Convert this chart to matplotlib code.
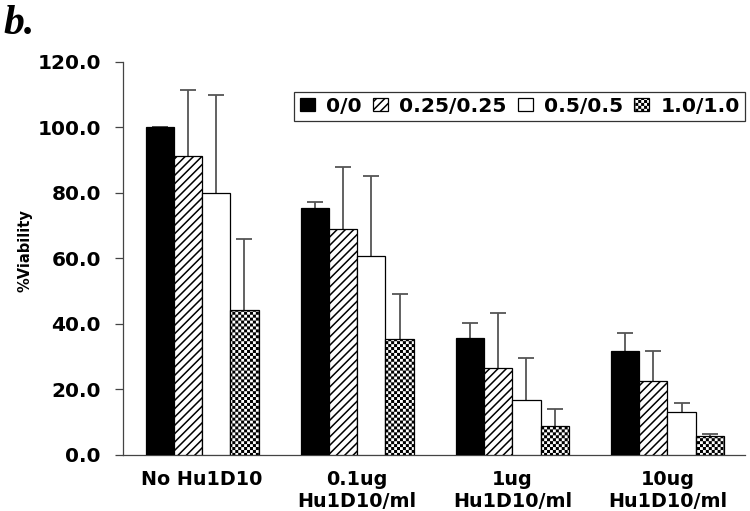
import warnings
import numpy as np
import matplotlib
matplotlib.use("Agg")
import matplotlib.pyplot as plt
from matplotlib import hatch as mhatch
from matplotlib.path import Path

warnings.filterwarnings("ignore")

# data (mean and SD, % viability)
groups = ["No Hu1D10", "0.1ug\nHu1D10/ml", "1ug\nHu1D10/ml", "10ug\nHu1D10/ml"]
series = ["0/0", "0.25/0.25", "0.5/0.5", "1.0/1.0"]
mean_00 = [100.0, 75.3, 35.6, 31.8]
sd_00 = [0.0, 1.9, 4.6, 5.4]
mean_25 = [91.3, 68.9, 26.6, 22.7]
sd_25 = [20.2, 18.9, 16.9, 9.2]
mean_50 = [80.1, 60.8, 16.8, 13.2]
sd_50 = [29.8, 24.4, 12.8, 2.8]
mean_10 = [44.3, 35.4, 8.9, 5.8]
sd_10 = [21.7, 13.7, 5.2, 0.6]
yticks = [0, 20, 40, 60, 80, 100, 120]


# checkerboard hatch ('c'), matplotlib has none built in
class CheckerHatch(mhatch.HatchPatternBase):
    def __init__(self, hatch, density):
        self.n = 34 if 'c' in hatch else 0
        self.num_vertices = (self.n * self.n // 2) * 5
        self.filled = True

    def set_vertices_and_codes(self, vertices, codes):
        s = 1.0 / self.n
        d = 0.0072  # shrink to make up for the stroke
        k = 0
        for i in range(self.n):
            for j in range(self.n):
                if (i + j) % 2:
                    continue
                x0, y0 = i * s + d, j * s + d
                x1, y1 = (i + 1) * s - d, (j + 1) * s - d
                vertices[k:k + 5] = [[x0, y0], [x1, y0], [x1, y1], [x0, y1], [x0, y0]]
                codes[k:k + 5] = [Path.MOVETO, Path.LINETO, Path.LINETO,
                                  Path.LINETO, Path.CLOSEPOLY]
                k += 5


mhatch._hatch_types.append(CheckerHatch)

plt.rcParams['hatch.linewidth'] = 1.1
plt.rcParams['hatch.color'] = 'black'
plt.rcParams['font.family'] = 'DejaVu Sans'

fig = plt.figure(figsize=(7.5, 5.11), dpi=100)
ax = fig.add_axes([0.164, 0.1096, 0.9933 - 0.164, 0.8787 - 0.1096])

x = np.arange(len(groups))
w = 0.182
means = [mean_00, mean_25, mean_50, mean_10]
sds = [sd_00, sd_25, sd_50, sd_10]
faces = ['black', 'white', 'white', 'white']
hatches = [None, '////', None, 'c']

for k in range(4):
    pos = x + (k - 1.5) * w
    ax.bar(pos, means[k], w, color=faces[k], edgecolor='black', linewidth=0.9,
           hatch=hatches[k], label=series[k], zorder=3)
    ax.errorbar(pos, means[k], yerr=sds[k], fmt='none', ecolor='#555555',
                elinewidth=1.3, capsize=5.5, capthick=1.3, zorder=2)

ax.set_xlim(-0.51, 3.5)
ax.set_ylim(0, 120)
ax.set_yticks(yticks)
ax.set_yticklabels(["%.1f" % v for v in yticks], fontsize=14.5, fontweight='bold')
ax.set_xticks(x)
ax.set_xticklabels(groups, fontsize=13.8, fontweight='bold')
ax.tick_params(axis='x', length=0, pad=11)
ax.tick_params(axis='y', length=6, width=0.9, color='#444444', pad=10)

for side in ['top', 'right']:
    ax.spines[side].set_visible(False)
for side in ['left', 'bottom']:
    ax.spines[side].set_color('#444444')
    ax.spines[side].set_linewidth(0.9)

ax.set_ylabel("%Viability", fontsize=10.5, fontweight='bold')
ax.yaxis.set_label_coords(-0.146, 0.519)

leg = ax.legend(loc='upper right', bbox_to_anchor=(1.0, 0.924), ncol=4,
                borderaxespad=0, prop={'weight': 'bold', 'size': 14.6},
                fancybox=False, framealpha=1, edgecolor='#333333',
                handlelength=0.75, handleheight=0.6, handletextpad=0.55,
                columnspacing=0.55, borderpad=0.25)
leg.get_frame().set_linewidth(0.9)

fig.text(0.004, 1 - 34 / 511, "b.", family='Liberation Serif', fontsize=30,
         fontweight='bold', fontstyle='italic', va='baseline', ha='left')

fig.savefig("out.png", dpi=100)
